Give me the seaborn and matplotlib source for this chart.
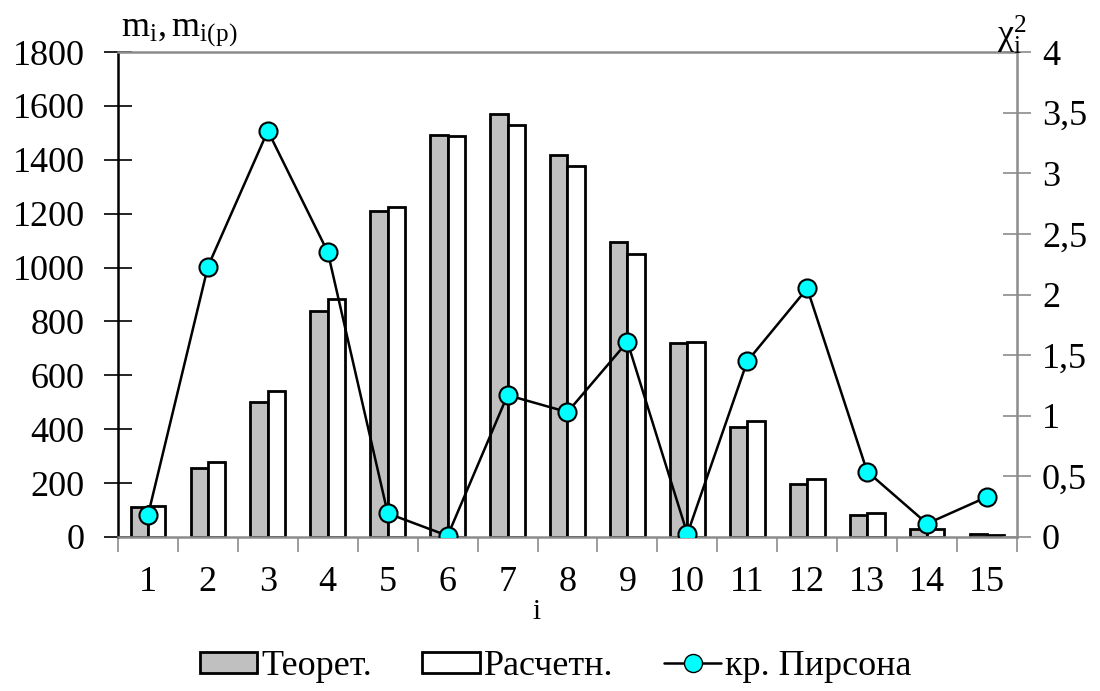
import numpy as np
import pandas as pd
import matplotlib
matplotlib.use("Agg")
import matplotlib.pyplot as plt
import seaborn as sns
from matplotlib.patches import Patch
from matplotlib.lines import Line2D

# data
categories = [str(i) for i in range(1, 16)]
teoret = [111, 255, 500, 840, 1210, 1492, 1570, 1417, 1094, 720, 407, 197, 82, 30, 10]
raschet = [116, 280, 542, 885, 1225, 1488, 1529, 1378, 1050, 725, 432, 216, 88, 28, 7]
pearson = [0.18, 2.23, 3.35, 2.35, 0.195, 0.01, 1.17, 1.03, 1.61, 0.025, 1.45, 2.05, 0.54, 0.11, 0.33]
series_names = ["Теорет.", "Расчетн."]

sns.set_style("white")
plt.rcParams['font.family'] = ['Liberation Serif', 'DejaVu Serif']
plt.rcParams['mathtext.fontset'] = 'custom'
plt.rcParams['mathtext.rm'] = 'Liberation Serif'
plt.rcParams['mathtext.it'] = 'Liberation Serif:italic'
plt.rcParams['text.color'] = 'black'
plt.rcParams['xtick.labelcolor'] = 'black'
plt.rcParams['ytick.labelcolor'] = 'black'

df = pd.DataFrame({
    "i": categories * 2,
    "m": teoret + raschet,
    "series": [series_names[0]] * 15 + [series_names[1]] * 15,
})

gray_axis = "#8c8c8c"
fs = 26
edge_w = 2.0

fig = plt.figure(figsize=(11, 6.91), dpi=100)
ax = fig.add_axes([0.1073, 0.2229, 0.8172, 0.7018])

sns.barplot(data=df, x="i", y="m", hue="series", order=categories,
            palette=["#c0c0c0", "#ffffff"], width=0.58, gap=0,
            edgecolor="black", linewidth=edge_w, saturation=1, ax=ax, legend=False)
ax.set_xlim(-0.5, 14.5)
ax.set_ylim(0, 1800)
ax.set_yticks(np.arange(0, 1801, 200))
ax.set_xlabel("")
ax.set_ylabel("")

# x ticks at category boundaries, labels at centres
ax.set_xticks(np.arange(-0.5, 15, 1))
ax.set_xticklabels([])
ax.set_xticks(np.arange(15), minor=True)
ax.set_xticklabels(categories, minor=True)
ax.tick_params(axis="x", which="major", direction="out", length=11, width=1.2,
               color=gray_axis, bottom=True)
ax.tick_params(axis="x", which="minor", length=0, pad=21, labelsize=fs)
ax.tick_params(axis="y", direction="inout", length=20, width=1.2, color="black",
               left=True, pad=14, labelsize=fs)

for side in ["top", "bottom", "right"]:
    ax.spines[side].set_color(gray_axis)
    ax.spines[side].set_linewidth(1.8)
ax.spines["left"].set_color("black")
ax.spines["left"].set_linewidth(1.8)

ax2 = ax.twinx()
sns.lineplot(x=np.arange(15), y=pearson, ax=ax2, color="black", linewidth=1.8,
             marker="o", markersize=13, markerfacecolor="#00ffff",
             markeredgecolor="black", markeredgewidth=1.5, zorder=5)
ax2.set_ylim(0, 4)
ax2.set_yticks(np.arange(0, 4.01, 0.5))
ax2.set_yticklabels([("%g" % v).replace(".", ",") for v in np.arange(0, 4.01, 0.5)])
ax2.tick_params(axis="y", direction="inout", length=20, width=1.2, color=gray_axis,
                right=True, pad=8, labelsize=fs)
for side in ["top", "bottom", "right", "left"]:
    ax2.spines[side].set_visible(False)
ax.set_xlim(-0.5, 14.5)

fig.text(0.110, 0.947, r"$\mathrm{m_i, m_{i(p)}}$", fontsize=26, ha="left", va="baseline")
fig.text(0.933, 0.935, r"$\mathrm{\chi_i^2}$", fontsize=26, ha="right", va="baseline")
fig.text(0.488, 0.115, "i", fontsize=21, ha="center", va="center")

handles = [
    Patch(facecolor="#c0c0c0", edgecolor="black", linewidth=edge_w, label=series_names[0]),
    Patch(facecolor="#ffffff", edgecolor="black", linewidth=edge_w, label=series_names[1]),
    Line2D([0], [0], color="black", linewidth=1.8, marker="o", markersize=13,
           markerfacecolor="#00ffff", markeredgecolor="black", label="кр. Пирсона"),
]
fig.legend(handles=handles, loc="center", bbox_to_anchor=(0.505, 0.035), ncol=3,
           frameon=False, fontsize=fs, handlelength=1.6, handleheight=0.55,
           handletextpad=0.1, columnspacing=1.4)

fig.savefig("out.png", dpi=100)
